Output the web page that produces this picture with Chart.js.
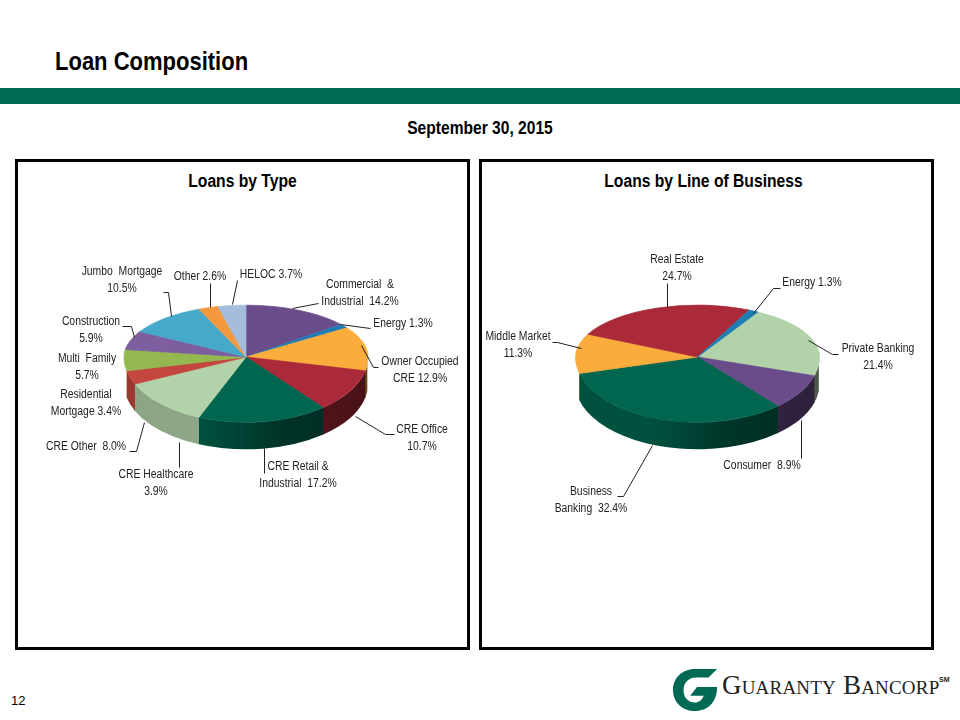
<!DOCTYPE html>
<html>
<head>
<meta charset="utf-8">
<title>Loan Composition</title>
<script src="https://cdn.jsdelivr.net/npm/chart.js@4"></script>
<style>
    html, body { margin: 0; padding: 0; background: #fff; }
    body { width: 960px; height: 720px; position: relative; overflow: hidden; font-family: "Liberation Sans", sans-serif; color: #000; }
    .abs { position: absolute; white-space: nowrap; }
    #title { left: 55px; top: 46px; font-size: 25px; line-height: 30px; font-weight: bold; transform: scaleX(0.88); transform-origin: left center; }
    #band { left: 0; top: 88px; width: 960px; height: 16px; background: #006A55; }
    #date { left: 0; width: 960px; top: 117px; text-align: center; font-size: 18px; line-height: 22px; font-weight: bold; transform: scaleX(0.866); }
    .panel { top: 159px; width: 449px; height: 485px; border: 3px solid #000; }
    #panelLeft { left: 15px; }
    #panelRight { left: 479px; }
    .panelTitle { top: 170px; width: 455px; text-align: center; font-size: 18px; line-height: 22px; font-weight: bold; transform: scaleX(0.87); }
    canvas { position: absolute; top: 162px; }
    #pageNum { left: 11px; top: 693px; font-size: 13px; line-height: 15px; }
    #logoText { left: 722px; top: 670px; font-family: "Liberation Serif", serif; font-size: 27px; line-height: 30px; font-variant: small-caps; color: #222; letter-spacing: 0.2px; }
    #logoSm { left: 939px; top: 676px; font-size: 7px; line-height: 8px; font-weight: bold; color: #222; }
</style>
</head>
<body>
<div class="abs" id="title">Loan Composition</div>
<div class="abs" id="band"></div>
<div class="abs" id="date">September 30, 2015</div>
<div class="abs panel" id="panelLeft"></div>
<div class="abs panel" id="panelRight"></div>
<div class="abs panelTitle" style="left:15px">Loans by Type</div>
<div class="abs panelTitle" style="left:476px">Loans by Line of Business</div>
<canvas id="typeChart" width="449" height="485" style="left:18px"></canvas>
<canvas id="businessChart" width="449" height="485" style="left:482px"></canvas>
<div class="abs" id="pageNum">12</div>
<svg class="abs" style="left:672px;top:667px" width="48" height="46" viewBox="0 0 50 46">
    <path fill="#006A55" d="M47 1 L24 1 C10 1 1 11 1 23 C1 36 11 45 24 45 C37 45 47 36 47 20 L26 20 L19 29 L33 29 C31 34 28 36 24 36 C16 36 12 30 12 23 C12 15 18 10 25 10 L38 10 Z"/>
</svg>
<div class="abs" id="logoText">Guaranty Bancorp</div>
<div class="abs" id="logoSm">SM</div>
<script>
const typeLabels = ['Commercial & Industrial', 'Energy', 'Owner Occupied CRE', 'CRE Office', 'CRE Retail & Industrial', 'CRE Healthcare', 'CRE Other', 'Residential Mortgage', 'Multi Family', 'Construction', 'Jumbo Mortgage', 'Other', 'HELOC'];
const typeValues = [14.2, 1.3, 12.9, 10.7, 17.2, 3.9, 8.0, 3.4, 5.7, 5.9, 10.5, 2.6, 3.7];
const typeColors = ['#6B4C8A', '#1F7DB4', '#FAAC3C', '#AB2A39', '#00664F', '#B2D2A9', '#B2D2A9', '#C4473F', '#94B84F', '#7D5FA0', '#46A9C9', '#F4983E', '#A5BDDC'];

const businessLabels = ['Private Banking', 'Consumer', 'Business Banking', 'Middle Market', 'Real Estate', 'Energy'];
const businessValues = [21.4, 8.9, 32.4, 11.3, 24.7, 1.3];
const businessColors = ['#B2D2A9', '#6B4C8A', '#00664F', '#FAAC3C', '#AB2A39', '#1F7DB4'];

// label text and leader lines, in page pixels
const typeCallouts = [
    { text: ['Commercial  &', 'Industrial  14.2%'], at: [360, 285], line: [[292, 308], [318, 303]] },
    { text: ['Energy 1.3%'], at: [403, 324], line: [[340, 324], [370, 328]] },
    { text: ['Owner Occupied', 'CRE 12.9%'], at: [420, 362], line: [[361, 345], [373, 367], [378, 367]] },
    { text: ['CRE Office', '10.7%'], at: [422, 430], line: [[355, 416], [385, 434], [394, 434]] },
    { text: ['CRE Retail &', 'Industrial  17.2%'], at: [298, 467], line: [[264, 448], [264, 473]] },
    { text: ['CRE Healthcare', '3.9%'], at: [156, 475], line: [[179, 442], [179, 467]] },
    { text: ['CRE Other  8.0%'], at: [86, 447], line: [[144, 422], [136, 451], [129, 451]] },
    { text: ['Residential', 'Mortgage 3.4%'], at: [86, 395], line: [] },
    { text: ['Multi  Family', '5.7%'], at: [87, 359], line: [] },
    { text: ['Construction', '5.9%'], at: [91, 322], line: [[134, 337], [131, 326], [122, 326]] },
    { text: ['Jumbo  Mortgage', '10.5%'], at: [122, 272], line: [[171, 316], [168, 292], [163, 292]] },
    { text: ['Other 2.6%'], at: [200, 277], line: [[210, 307], [210, 283]] },
    { text: ['HELOC 3.7%'], at: [271, 275], line: [[232, 304], [237, 280]] }
];
const businessCallouts = [
    { text: ['Real Estate', '24.7%'], at: [677, 260], line: [[667, 307], [667, 283]] },
    { text: ['Energy 1.3%'], at: [812, 283], line: [[753, 313], [773, 288], [780, 288]] },
    { text: ['Private Banking', '21.4%'], at: [878, 349], line: [[808, 340], [832, 354], [838, 354]] },
    { text: ['Consumer  8.9%'], at: [762, 466], line: [[801, 420], [801, 458]] },
    { text: ['Business', 'Banking  32.4%'], at: [591, 492], line: [[652, 445], [623, 496], [617, 496]] },
    { text: ['Middle Market', '11.3%'], at: [518, 337], line: [[581, 348], [557, 342], [552, 342]] }
];

const pieDepth = 27;
const squashTop = 0.425;
const squashBottom = 0.535;
const deg = Math.PI / 180;

function shade(hex, f) {
    const n = parseInt(hex.slice(1), 16);
    const c = [n >> 16, (n >> 8) & 255, n & 255].map(v => Math.round(v * f));
    return `rgb(${c[0]},${c[1]},${c[2]})`;
}

// tilted pie: side wall first, then the slices squashed from the apex
const tiltPlugin = {
    id: 'tilt',
    beforeDatasetDraw(chart, args) {
        const ctx = chart.ctx;
        const cfg = chart.options.plugins.tilt;
        const arcs = args.meta.data;
        const cx = arcs[0].x;
        const cy = arcs[0].y;
        const r = arcs[0].outerRadius;
        const ry = r * squashBottom;

        arcs.forEach(arc => {
            const a = ((arc.startAngle % (2 * Math.PI)) + 2 * Math.PI) % (2 * Math.PI);
            const b = a + (arc.endAngle - arc.startAngle);
            [0, 2 * Math.PI].forEach(turn => {
                const from = Math.max(a, turn + cfg.wall[0] * deg);
                const to = Math.min(b + 0.01, turn + cfg.wall[1] * deg);
                if (to <= from) return;
                const color = arc.options.backgroundColor;
                const grad = ctx.createLinearGradient(cx - r, 0, cx + r, 0);
                grad.addColorStop(0, shade(color, 0.78));
                grad.addColorStop(0.3, shade(color, 0.8));
                grad.addColorStop(0.65, shade(color, 0.5));
                grad.addColorStop(1, shade(color, 0.42));
                ctx.beginPath();
                ctx.ellipse(cx, cy, r, ry, 0, from, to);
                ctx.ellipse(cx, cy + pieDepth, r, ry, 0, to, from, true);
                ctx.closePath();
                ctx.fillStyle = grad;
                ctx.fill();
            });
        });

        [[-1000, squashTop], [cy, squashBottom]].forEach(([clipTop, squash], i) => {
            ctx.save();
            ctx.beginPath();
            ctx.rect(0, clipTop, chart.width, i === 0 ? cy + 1000 : chart.height);
            ctx.clip();
            ctx.translate(cx, cy);
            ctx.scale(1, squash);
            ctx.translate(-cx, -cy);
            args.meta.controller.draw();
            ctx.restore();
        });
        return false;
    },
    afterDraw(chart) {
        const ctx = chart.ctx;
        const cfg = chart.options.plugins.tilt;
        ctx.save();
        ctx.translate(-cfg.origin[0], -cfg.origin[1]);
        ctx.font = '12.5px "Liberation Sans", sans-serif';
        ctx.fillStyle = '#222';
        ctx.strokeStyle = '#222';
        ctx.lineWidth = 1;
        ctx.textAlign = 'center';
        ctx.textBaseline = 'middle';
        cfg.callouts.forEach(item => {
            item.text.forEach((t, i) => {
                ctx.save();
                ctx.translate(item.at[0], item.at[1] + i * 16.5);
                ctx.scale(0.83, 1);
                ctx.fillText(t, 0, 0);
                ctx.restore();
            });
            if (item.line.length) {
                ctx.beginPath();
                item.line.forEach(([x, y], i) => i ? ctx.lineTo(x + 0.5, y + 0.5) : ctx.moveTo(x + 0.5, y + 0.5));
                ctx.stroke();
            }
        });
        ctx.restore();
    }
};

function createPie(canvasId, labels, values, colors, rotation, padding, tilt) {
    return new Chart(document.getElementById(canvasId).getContext('2d'), {
        type: 'pie',
        data: {
            labels: labels,
            datasets: [{
                data: values,
                backgroundColor: colors,
                borderColor: colors,
                borderWidth: 1,
                radius: 122
            }]
        },
        options: {
            responsive: false,
            animation: false,
            rotation: rotation,
            layout: { padding: padding },
            plugins: {
                legend: { display: false },
                tooltip: { enabled: false },
                tilt: tilt
            }
        },
        plugins: [tiltPlugin]
    });
}

createPie('typeChart', typeLabels, typeValues, typeColors, 0, { left: 8, right: 1, top: 0, bottom: 95 },
    { callouts: typeCallouts, origin: [18, 162], wall: [6, 168] });
createPie('businessChart', businessLabels, businessValues, businessColors, 29.7, { left: 0, right: 18, top: 0, bottom: 95 },
    { callouts: businessCallouts, origin: [482, 162], wall: [6, 166] });
</script>
</body>
</html>
